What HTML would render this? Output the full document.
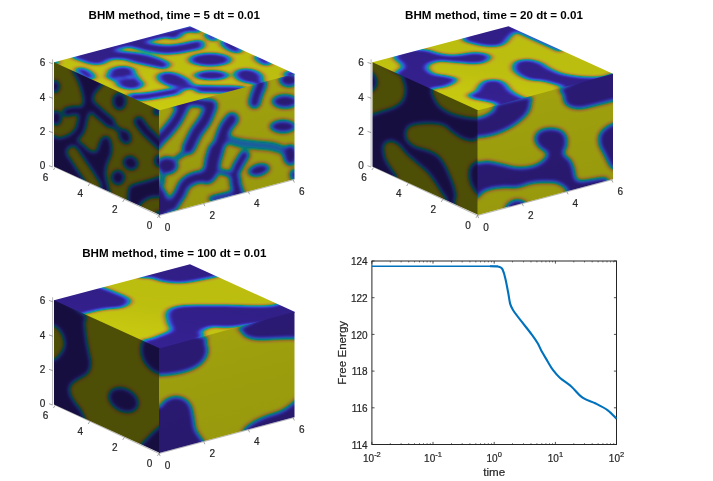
<!DOCTYPE html>
<html><head><meta charset="utf-8"><title>BHM method</title>
<style>
html,body{margin:0;padding:0;background:#fff;}
body{width:713px;height:481px;overflow:hidden;font-family:"Liberation Sans",sans-serif;}
svg{display:block}
svg text{font-family:"Liberation Sans",sans-serif;}
.tt{font-size:11.6px;font-weight:bold;fill:#000;}
.tk{font-size:10px;fill:#262626;stroke:#262626;stroke-width:0.2px;}
.lb{font-size:11.6px;fill:#262626;stroke:#262626;stroke-width:0.2px;}
</style></head><body>
<svg width="713" height="481" viewBox="0 0 713 481">
<defs>
<filter id="pftop" x="-5%" y="-5%" width="110%" height="110%" color-interpolation-filters="sRGB"><feGaussianBlur stdDeviation="3.2 1.5"/><feComponentTransfer><feFuncR type="table" tableValues="0.211 0.218 0.224 0.230 0.234 0.238 0.241 0.242 0.243 0.242 0.241 0.237 0.232 0.223 0.209 0.189 0.168 0.157 0.153 0.151 0.144 0.131 0.124 0.117 0.106 0.094 0.081 0.058 0.025 0.003 0.006 0.036 0.081 0.118 0.144 0.163 0.181 0.207 0.243 0.285 0.326 0.372 0.420 0.468 0.513 0.558 0.601 0.641 0.679 0.714 0.747 0.775 0.802 0.820 0.820 0.818 0.812 0.803 0.793 0.787 0.785 0.786 0.791 0.796"/><feFuncG type="table" tableValues="0.131 0.143 0.158 0.172 0.186 0.203 0.221 0.240 0.259 0.278 0.297 0.316 0.335 0.354 0.374 0.394 0.415 0.434 0.452 0.469 0.486 0.503 0.518 0.533 0.548 0.563 0.576 0.588 0.599 0.608 0.617 0.625 0.632 0.638 0.645 0.651 0.658 0.663 0.667 0.669 0.670 0.669 0.666 0.661 0.655 0.647 0.639 0.630 0.621 0.613 0.606 0.602 0.602 0.612 0.630 0.649 0.668 0.688 0.708 0.728 0.747 0.766 0.784 0.802"/><feFuncB type="table" tableValues="0.574 0.615 0.652 0.690 0.725 0.754 0.778 0.797 0.812 0.826 0.837 0.846 0.851 0.855 0.857 0.855 0.847 0.838 0.827 0.812 0.798 0.785 0.772 0.763 0.754 0.743 0.729 0.710 0.690 0.669 0.646 0.623 0.600 0.576 0.551 0.525 0.497 0.466 0.434 0.400 0.364 0.326 0.290 0.253 0.217 0.185 0.158 0.136 0.127 0.132 0.147 0.173 0.197 0.195 0.181 0.167 0.155 0.145 0.135 0.126 0.116 0.103 0.087 0.066"/></feComponentTransfer></filter>
<filter id="pfright" x="-5%" y="-5%" width="110%" height="110%" color-interpolation-filters="sRGB"><feGaussianBlur stdDeviation="2.6 2.1"/><feComponentTransfer><feFuncR type="table" tableValues="0.166 0.171 0.176 0.181 0.185 0.188 0.190 0.191 0.191 0.191 0.190 0.187 0.183 0.176 0.165 0.149 0.132 0.124 0.120 0.119 0.113 0.103 0.098 0.093 0.084 0.074 0.064 0.046 0.020 0.002 0.004 0.029 0.064 0.093 0.114 0.128 0.143 0.163 0.192 0.225 0.258 0.294 0.332 0.369 0.406 0.441 0.475 0.507 0.537 0.565 0.590 0.613 0.634 0.648 0.649 0.647 0.642 0.635 0.627 0.622 0.621 0.622 0.626 0.630"/><feFuncG type="table" tableValues="0.103 0.113 0.124 0.135 0.147 0.160 0.174 0.189 0.204 0.219 0.234 0.249 0.264 0.279 0.295 0.311 0.327 0.342 0.356 0.370 0.383 0.396 0.409 0.421 0.433 0.444 0.454 0.464 0.473 0.480 0.487 0.493 0.499 0.504 0.509 0.514 0.519 0.524 0.527 0.529 0.530 0.529 0.526 0.522 0.518 0.512 0.505 0.498 0.491 0.484 0.479 0.476 0.476 0.484 0.498 0.513 0.528 0.544 0.560 0.576 0.591 0.606 0.620 0.635"/><feFuncB type="table" tableValues="0.452 0.484 0.514 0.543 0.571 0.594 0.612 0.628 0.640 0.651 0.659 0.666 0.671 0.673 0.675 0.674 0.668 0.661 0.652 0.641 0.629 0.619 0.609 0.602 0.595 0.586 0.575 0.561 0.545 0.528 0.510 0.492 0.473 0.454 0.435 0.414 0.392 0.368 0.343 0.316 0.287 0.258 0.229 0.200 0.172 0.146 0.125 0.108 0.100 0.104 0.116 0.137 0.156 0.154 0.143 0.132 0.122 0.115 0.106 0.100 0.092 0.082 0.069 0.052"/></feComponentTransfer></filter>
<filter id="pfleft" x="-5%" y="-5%" width="110%" height="110%" color-interpolation-filters="sRGB"><feGaussianBlur stdDeviation="2.1 2.3"/><feComponentTransfer><feFuncR type="table" tableValues="0.092 0.095 0.097 0.100 0.102 0.103 0.104 0.104 0.105 0.104 0.103 0.102 0.099 0.095 0.089 0.080 0.071 0.066 0.065 0.064 0.061 0.055 0.052 0.049 0.044 0.039 0.034 0.024 0.010 0.001 0.002 0.015 0.033 0.049 0.059 0.067 0.074 0.084 0.099 0.116 0.132 0.150 0.170 0.188 0.207 0.224 0.241 0.257 0.271 0.284 0.297 0.308 0.317 0.324 0.323 0.322 0.319 0.314 0.310 0.307 0.305 0.305 0.306 0.308"/><feFuncG type="table" tableValues="0.057 0.063 0.069 0.075 0.081 0.088 0.096 0.104 0.112 0.120 0.127 0.135 0.143 0.151 0.159 0.168 0.176 0.184 0.191 0.198 0.205 0.211 0.218 0.224 0.229 0.235 0.240 0.245 0.249 0.252 0.255 0.258 0.260 0.262 0.265 0.267 0.269 0.271 0.272 0.272 0.272 0.271 0.269 0.267 0.264 0.260 0.256 0.252 0.248 0.244 0.241 0.239 0.238 0.242 0.248 0.255 0.262 0.269 0.277 0.284 0.291 0.297 0.304 0.310"/><feFuncB type="table" tableValues="0.251 0.268 0.284 0.300 0.314 0.326 0.336 0.344 0.350 0.355 0.359 0.362 0.364 0.365 0.365 0.364 0.360 0.355 0.350 0.343 0.336 0.330 0.324 0.320 0.316 0.310 0.304 0.296 0.287 0.277 0.267 0.257 0.247 0.237 0.226 0.215 0.203 0.190 0.177 0.163 0.147 0.132 0.117 0.102 0.087 0.074 0.064 0.055 0.051 0.053 0.058 0.069 0.078 0.077 0.071 0.066 0.061 0.057 0.053 0.049 0.045 0.040 0.034 0.025"/></feComponentTransfer></filter>
<linearGradient id="lsh" gradientUnits="objectBoundingBox" x1="0" y1="0" x2="1" y2="0"><stop offset="0" stop-color="#000" stop-opacity="0"/><stop offset="1" stop-color="#000" stop-opacity="0"/></linearGradient>
</defs>
<rect width="713" height="481" fill="#fff"/>
<g stroke="#262626" stroke-width="0.6" fill="none" opacity="0.55"><line x1="52.6" y1="59.3" x2="52.6" y2="166.6"/><line x1="54" y1="166.6" x2="159" y2="215.5"/><line x1="159" y1="215.5" x2="294.5" y2="179.5"/></g>
<linearGradient id="tsh1" gradientUnits="userSpaceOnUse" x1="159" y1="110.5" x2="171" y2="30"><stop offset="0" stop-color="#000" stop-opacity="0"/><stop offset="0.5" stop-color="#000" stop-opacity="0.065"/><stop offset="1" stop-color="#000" stop-opacity="0.075"/></linearGradient><clipPath id="c1top"><polygon points="54,62.3 190,26.3 294.5,73.7 294.5,74.7 159,111.5 54,63.3"/></clipPath>
<g clip-path="url(#c1top)"><g filter="url(#pftop)"><rect x="30" y="10" width="290" height="225" fill="#fff"/><ellipse cx="55" cy="62.5" rx="3.5" ry="2.5" transform="rotate(0 55 62.5)" fill="#000"/><path d="M73,54.5C75.7,52.9 84.2,50.6 90,49C95.8,47.4 103.3,44.7 107.8,45C112.2,45.3 113,49.5 116.5,50.6C120,51.7 124.6,51.3 129,51.8C133.4,52.3 138.7,52.8 143,53.6C147.3,54.4 151.3,55.3 155,56.4C158.7,57.5 162.5,59 165,60.4C167.5,61.8 170,63.1 170,64.5C170,65.9 167.3,68.3 165,68.8C162.7,69.3 158.9,68 156,67.5C153.1,67 151.2,66.5 147.5,65.7C143.8,64.9 137.9,63.7 134,62.7C130.1,61.7 127.3,60.3 124,59.7C120.7,59.1 116.7,59 114,59.3C111.3,59.5 109.8,60.4 107.8,61.2C105.7,62 104.2,63.8 101.5,64.3C98.8,64.8 95.2,65 91.5,64.3C87.8,63.6 81.9,61.2 79,60.2C76.1,59.2 75,59.5 74,58.5C73,57.5 70.3,56.1 73,54.5Z" fill="#000"/><path d="M106,49.5C109.2,48.7 119,46.1 125,44.5C131,42.9 137.5,41.2 142,40C146.5,38.8 148.2,38.4 152,37.5C155.8,36.6 160.7,35.5 165,34.5C169.3,33.5 173.8,32.5 178,31.5C182.2,30.5 186.8,28.8 190,28.5C193.2,28.2 195.8,29.8 197,30" fill="none" stroke="#000" stroke-width="6.5" stroke-linecap="round" stroke-linejoin="round"/><ellipse cx="175" cy="34.8" rx="8" ry="4.2" transform="rotate(-15 175 34.8)" fill="#000"/><ellipse cx="85.5" cy="73.5" rx="10.5" ry="4.3" transform="rotate(25 85.5 73.5)" fill="#000"/><path d="M133,43.5C134,43.7 135.7,44.1 138.8,44.8C141.8,45.5 146.7,47.1 151.2,47.9C155.8,48.7 161.5,49.6 166.2,49.7C171,49.8 175.6,49.1 180,48.5C184.4,47.9 189.2,46.6 192.5,46C195.8,45.4 198.3,45 199.5,44.8" fill="none" stroke="#000" stroke-width="9.5" stroke-linecap="round" stroke-linejoin="round"/><ellipse cx="121.5" cy="72.2" rx="13.5" ry="6" transform="rotate(-3 121.5 72.2)" fill="#000"/><ellipse cx="130" cy="83.6" rx="13.5" ry="5.8" transform="rotate(3 130 83.6)" fill="#000"/><path d="M134,75.5C134.6,76.2 136.9,79.2 137.5,80" fill="none" stroke="#000" stroke-width="4.5" stroke-linecap="round" stroke-linejoin="round"/><path d="M108,76C108.8,76.4 111.3,77.7 113,78.5C114.7,79.3 117.2,80.6 118,81" fill="none" stroke="#000" stroke-width="3.5" stroke-linecap="round" stroke-linejoin="round"/><ellipse cx="172.5" cy="79.6" rx="15.5" ry="7" transform="rotate(12 172.5 79.6)" fill="#000"/><path d="M131.2,97.3C134,97.1 142.3,96.8 147.5,96.2C152.7,95.7 157.6,94.6 162.5,93.8C167.4,92.9 174.6,91.5 177,91" fill="none" stroke="#000" stroke-width="7.5" stroke-linecap="round" stroke-linejoin="round"/><path d="M178,90.5C179.8,89.8 185.5,86.8 189,86.5C192.5,86.2 197.3,88.2 199,88.5" fill="none" stroke="#000" stroke-width="4.5" stroke-linecap="round" stroke-linejoin="round"/><path d="M186,80C186.8,80.8 190.2,84.2 191,85" fill="none" stroke="#000" stroke-width="4" stroke-linecap="round" stroke-linejoin="round"/><ellipse cx="210" cy="59.7" rx="21" ry="6.6" transform="rotate(0 210 59.7)" fill="#000"/><ellipse cx="211.5" cy="75.3" rx="17" ry="4.8" transform="rotate(0 211.5 75.3)" fill="#000"/><path d="M199,89C201.2,89 207.2,89.2 212,89.3C216.8,89.4 222.8,89.4 228,89.6C233.2,89.8 240.5,90.3 243,90.5" fill="none" stroke="#000" stroke-width="7.5" stroke-linecap="round" stroke-linejoin="round"/><ellipse cx="248.5" cy="76" rx="14.5" ry="7" transform="rotate(8 248.5 76)" fill="#000"/><path d="M254,79C255,79.8 258.7,82.2 260,84C261.3,85.8 261.7,89 262,90" fill="none" stroke="#000" stroke-width="9" stroke-linecap="round" stroke-linejoin="round"/><ellipse cx="211" cy="37" rx="7" ry="3.2" transform="rotate(25 211 37)" fill="#000"/><ellipse cx="231.5" cy="46.5" rx="11.5" ry="5" transform="rotate(25 231.5 46.5)" fill="#000"/><ellipse cx="263" cy="60.3" rx="9" ry="4" transform="rotate(25 263 60.3)" fill="#000"/><ellipse cx="291" cy="74.5" rx="7" ry="4" transform="rotate(0 291 74.5)" fill="#000"/></g><polygon points="54,62.3 190,26.3 294.5,73.7 294.5,74.7 159,111.5 54,63.3" fill="url(#tsh1)"/></g>
<clipPath id="c1left"><polygon points="54,62.3 160,110.5 160,215 54,166.6"/></clipPath>
<g clip-path="url(#c1left)"><g filter="url(#pfleft)"><rect x="30" y="10" width="290" height="225" fill="#fff"/><path d="M104,83.5C103,85 101.4,86.4 100,88C98.6,89.6 96.6,91.2 95.5,93C94.4,94.8 93.8,96.8 93.5,99C93.2,101.2 94.4,104.3 93.5,106C92.6,107.7 89.8,109 88,109C86.2,109 83.8,107.5 83,106C82.2,104.5 83.2,101.8 83,100C82.8,98.2 82.5,97.1 82,95C81.5,92.9 80.8,90 80,87.5C79.2,85 78.1,82.3 77,80C75.9,77.7 74.3,75.8 73.5,73.5C72.7,71.2 69.2,66.2 72,66C74.8,65.8 84.3,69.8 90,72C95.7,74.2 103.7,77.1 106,79C108.3,80.9 105,82 104,83.5Z" fill="#000"/><path d="M67,112C68.3,111.8 71.8,110.6 75,110.5C78.2,110.4 84.2,111.3 86,111.5" fill="none" stroke="#000" stroke-width="9" stroke-linecap="round" stroke-linejoin="round"/><path d="M86,108C85.5,109.7 84,114.3 83,118C82,121.7 81.8,126.6 80,130C78.2,133.4 75.3,136.3 72,138.5C68.7,140.7 62,142.2 60,143" fill="none" stroke="#000" stroke-width="10" stroke-linecap="round" stroke-linejoin="round"/><path d="M88,103C90,104.8 96.3,110.5 100,113.8C103.7,117 108.3,121 110,122.5" fill="none" stroke="#000" stroke-width="10.5" stroke-linecap="round" stroke-linejoin="round"/><path d="M110,122.5C111.5,123.8 117.5,128.8 119,130" fill="none" stroke="#000" stroke-width="4.5" stroke-linecap="round" stroke-linejoin="round"/><ellipse cx="125" cy="136.5" rx="6" ry="8" transform="rotate(-30 125 136.5)" fill="#000"/><ellipse cx="55" cy="86.5" rx="5" ry="6.5" transform="rotate(0 55 86.5)" fill="#000"/><ellipse cx="56" cy="118" rx="6" ry="7.5" transform="rotate(0 56 118)" fill="#000"/><ellipse cx="119.4" cy="101.25" rx="7" ry="8.7" transform="rotate(0 119.4 101.25)" fill="#000"/><path d="M138.8,121.5C139.8,122.9 142.7,127.3 145,130C147.3,132.7 149.8,134.9 152.5,137.5C155.2,140.1 159.6,144.2 161,145.5" fill="none" stroke="#000" stroke-width="10" stroke-linecap="round" stroke-linejoin="round"/><ellipse cx="157" cy="111.5" rx="4" ry="4" transform="rotate(0 157 111.5)" fill="#000"/><path d="M48,137C50,131 56.3,137.6 60,138C63.7,138.4 67,139 70,139.5C73,140 75.7,140.1 78,141C80.3,141.9 82,143.4 84,145C86,146.6 88,149.5 90,150.5C92,151.5 94.5,152.2 96,151C97.5,149.8 98,145.2 99,143C100,140.8 100.8,138.7 102,137.5C103.2,136.3 104.7,135.8 106,136C107.3,136.2 109,136.8 110,138.5C111,140.2 111.8,143.2 112,146C112.2,148.8 112.2,152.2 111.5,155C110.8,157.8 108.9,160.2 108,163C107.1,165.8 106.2,169.2 106,172C105.8,174.8 106.5,177.3 107,180C107.5,182.7 109.2,185 109,188C108.8,191 116.2,200.3 106,198C95.8,195.7 57.7,184.2 48,174C38.3,163.8 46,143 48,137Z" fill="#000"/><path d="M72.5,152C72.7,152.3 72.3,151.6 73.8,153.8C75.2,155.9 78.8,161.2 81.2,165C83.8,168.8 86.5,172.8 88.8,176.2C91,179.8 94,184.4 95,186" fill="none" stroke="#fff" stroke-width="11" stroke-linecap="round" stroke-linejoin="round"/><ellipse cx="130.6" cy="163" rx="8" ry="7" transform="rotate(30 130.6 163)" fill="#000"/><ellipse cx="118" cy="177.5" rx="7" ry="7.5" transform="rotate(0 118 177.5)" fill="#000"/><path d="M127.5,200.6C127.3,197.5 127.5,190.3 128.8,187.5C130,184.7 132.5,184.8 135,183.8C137.5,182.7 140.8,182.1 143.8,181.2C146.7,180.4 149.5,179.5 152.5,178.8C155.5,178 160.4,174.1 162,177C163.6,179.9 163.6,192.6 162,196C160.4,199.4 155.1,196.8 152.5,197.5C149.9,198.2 148.1,199 146.2,200C144.4,201 142.6,202.4 141.2,203.8C139.9,205.1 139.9,207.6 138,208C136.1,208.4 131.8,207.2 130,206C128.2,204.8 127.7,203.7 127.5,200.6Z" fill="#000"/><ellipse cx="159.5" cy="161" rx="5.5" ry="6.5" transform="rotate(0 159.5 161)" fill="#000"/><ellipse cx="158.5" cy="213.5" rx="3" ry="3" transform="rotate(0 158.5 213.5)" fill="#000"/></g><polygon points="54,62.3 159,110.5 159,215 54,166.6" fill="url(#lsh)"/></g>
<linearGradient id="rsh1" gradientUnits="userSpaceOnUse" x1="159" y1="110.5" x2="185.6" y2="208.3"><stop offset="0" stop-color="#000" stop-opacity="0"/><stop offset="1" stop-color="#000" stop-opacity="0.05"/></linearGradient><clipPath id="c1right"><polygon points="159,110.5 294.5,73.7 294.5,179 159,215"/></clipPath>
<g clip-path="url(#c1right)"><g filter="url(#pfright)"><rect x="30" y="10" width="290" height="225" fill="#fff"/><path d="M226,139C228.3,139.7 235,142 240,143C245,144 250.7,144.4 256,145C261.3,145.6 267.5,145.7 272,146.5C276.5,147.3 281.2,149.4 283,150" fill="none" stroke="#4a4a4a" stroke-width="9" stroke-linecap="round" stroke-linejoin="round"/><path d="M187,151C185.3,152.2 178.7,156.8 177,158" fill="none" stroke="#000" stroke-width="4" stroke-linecap="round" stroke-linejoin="round"/><path d="M163,172C162.8,174 162.2,182 162,184" fill="none" stroke="#000" stroke-width="4" stroke-linecap="round" stroke-linejoin="round"/><path d="M222,172C224,172.5 232,174.5 234,175" fill="none" stroke="#000" stroke-width="5" stroke-linecap="round" stroke-linejoin="round"/><path d="M185,103C183.5,105.8 179.2,115.3 176.2,120C173.3,124.7 170.2,128.1 167.5,131.2C164.8,134.4 162.2,136.5 160,139C157.8,141.5 155,144.8 154,146" fill="none" stroke="#000" stroke-width="12" stroke-linecap="round" stroke-linejoin="round"/><path d="M176,103.5C177.7,103.2 182.3,102.2 186,102C189.7,101.8 193.8,102.2 198,102.5C202.2,102.8 208.8,103.8 211,104" fill="none" stroke="#000" stroke-width="9" stroke-linecap="round" stroke-linejoin="round"/><path d="M211,105.5C210,107.9 207.5,115.5 205,120C202.5,124.5 198.8,128.3 196.2,132.5C193.8,136.7 191.3,142.4 190,145C188.7,147.6 188.8,147.5 188.5,148" fill="none" stroke="#000" stroke-width="13" stroke-linecap="round" stroke-linejoin="round"/><path d="M232,119C230.8,120.6 227,124.8 225,128.8C223,132.7 221.5,138.6 220,142.5C218.5,146.4 216.7,150.4 216,152" fill="none" stroke="#000" stroke-width="13" stroke-linecap="round" stroke-linejoin="round"/><path d="M216,150C215.5,151.7 213.8,156.5 213,160C212.2,163.5 212,168.3 211,171C210,173.7 207.7,175.2 207,176" fill="none" stroke="#000" stroke-width="16" stroke-linecap="round" stroke-linejoin="round"/><path d="M208,177C206,177.1 200.1,176.4 196.2,177.5C192.4,178.6 187.7,181 185,183.8C182.3,186.5 182.2,190 180,193.8C177.8,197.5 173.3,204 172,206" fill="none" stroke="#000" stroke-width="12" stroke-linecap="round" stroke-linejoin="round"/><path d="M261,84C260.2,85.8 257.6,91.9 256.5,95C255.4,98.1 254.8,101.2 254.5,102.5" fill="none" stroke="#000" stroke-width="12" stroke-linecap="round" stroke-linejoin="round"/><ellipse cx="289" cy="80" rx="10" ry="7" transform="rotate(0 289 80)" fill="#000"/><ellipse cx="285" cy="101.5" rx="13" ry="7" transform="rotate(0 285 101.5)" fill="#000"/><ellipse cx="283" cy="126.5" rx="13" ry="6.5" transform="rotate(0 283 126.5)" fill="#000"/><ellipse cx="290.5" cy="155" rx="7.5" ry="10.5" transform="rotate(0 290.5 155)" fill="#000"/><ellipse cx="294" cy="175" rx="4" ry="6" transform="rotate(0 294 175)" fill="#000"/><path d="M244.5,155C243.6,156.5 240.4,161.5 239,164C237.6,166.5 236.5,169 236,170" fill="none" stroke="#000" stroke-width="10" stroke-linecap="round" stroke-linejoin="round"/><path d="M235,178C235.2,179.3 235.3,183.3 236,186C236.7,188.7 238.5,192.7 239,194" fill="none" stroke="#000" stroke-width="11" stroke-linecap="round" stroke-linejoin="round"/><ellipse cx="258.75" cy="170" rx="11" ry="6" transform="rotate(-15 258.75 170)" fill="#000"/><ellipse cx="167" cy="165.5" rx="11" ry="9" transform="rotate(0 167 165.5)" fill="#000"/><path d="M155,184C155.8,178.5 158.2,183.7 160,185C161.8,186.3 164.3,189 166,192C167.7,195 169.3,199.7 170,203C170.7,206.3 170.8,209.8 170,212C169.2,214.2 167.5,215 165,216C162.5,217 156.7,223.3 155,218C153.3,212.7 154.2,189.5 155,184Z" fill="#000"/><path d="M212,199C214,198.5 220.3,196.8 224,196C227.7,195.2 232.3,194.3 234,194" fill="none" stroke="#000" stroke-width="6" stroke-linecap="round" stroke-linejoin="round"/></g><polygon points="159,110.5 294.5,73.7 294.5,179 159,215" fill="url(#rsh1)"/></g>
<g stroke="#262626" stroke-width="0.6" opacity="0.7"><line x1="49" y1="165.7" x2="52.6" y2="167.0"/><line x1="49" y1="131.3" x2="52.6" y2="132.6"/><line x1="49" y1="96.9" x2="52.6" y2="98.2"/><line x1="49" y1="62.4" x2="52.6" y2="63.7"/><line x1="159.0" y1="215.5" x2="160.2" y2="218.1"/><line x1="203.7" y1="203.6" x2="204.9" y2="206.2"/><line x1="248.4" y1="191.7" x2="249.6" y2="194.3"/><line x1="293.2" y1="179.9" x2="294.4" y2="182.5"/><line x1="159.0" y1="215.5" x2="157.4" y2="217.9"/><line x1="124.3" y1="199.5" x2="122.7" y2="201.9"/><line x1="89.7" y1="183.6" x2="88.1" y2="186.0"/><line x1="55.0" y1="167.6" x2="53.4" y2="170.0"/></g>
<g class="tk"><text x="45.4" y="169.4" text-anchor="end">0</text><text x="45.4" y="135.0" text-anchor="end">2</text><text x="45.4" y="100.6" text-anchor="end">4</text><text x="45.4" y="66.1" text-anchor="end">6</text><text x="167.5" y="230.5" text-anchor="middle">0</text><text x="212.2" y="218.6" text-anchor="middle">2</text><text x="256.9" y="206.7" text-anchor="middle">4</text><text x="301.7" y="194.9" text-anchor="middle">6</text><text x="149.5" y="229.0" text-anchor="middle">0</text><text x="114.8" y="213.0" text-anchor="middle">2</text><text x="80.2" y="197.1" text-anchor="middle">4</text><text x="45.5" y="181.1" text-anchor="middle">6</text></g>
<text class="tt" x="174.3" y="18.9" text-anchor="middle">BHM method, time = 5 dt = 0.01</text>
<g stroke="#262626" stroke-width="0.6" fill="none" opacity="0.55"><line x1="371.1" y1="59.3" x2="371.1" y2="166.6"/><line x1="372.5" y1="166.6" x2="477.5" y2="215.5"/><line x1="477.5" y1="215.5" x2="613.0" y2="179.5"/></g>
<linearGradient id="tsh2" gradientUnits="userSpaceOnUse" x1="477.5" y1="110.5" x2="489.5" y2="30"><stop offset="0" stop-color="#000" stop-opacity="0"/><stop offset="0.5" stop-color="#000" stop-opacity="0.065"/><stop offset="1" stop-color="#000" stop-opacity="0.075"/></linearGradient><clipPath id="c2top"><polygon points="372.5,62.3 508.5,26.3 613,73.7 613,74.7 477.5,111.5 372.5,63.3"/></clipPath>
<g clip-path="url(#c2top)"><g filter="url(#pftop)"><rect x="348.5" y="10" width="290" height="225" fill="#fff"/><path d="M394.2,57.5C394.2,55.2 395,51.3 400,50C405,48.7 417.5,48.9 424.2,49.5C431,50.1 435.3,52.8 440.5,53.8C445.7,54.7 450.1,55.2 455.5,55C460.9,54.8 468,52.7 473,52.5C478,52.3 482.6,52.9 485.5,53.8C488.4,54.6 490.7,56 490.5,57.5C490.3,59 487.2,61.5 484.2,62.5C481.3,63.5 477.8,63.8 473,63.8C468.2,63.8 460.9,62.9 455.5,62.5C450.1,62.1 444.7,61 440.5,61.2C436.3,61.5 432.6,62.5 430.5,63.8C428.4,65 427.4,67.1 428,68.8C428.6,70.4 430.9,72.5 434.2,73.8C437.6,75 444.2,75.4 448,76.2C451.8,77.1 455.9,77.5 456.8,78.8C457.6,80 455.3,82.3 453,83.8C450.7,85.2 446.3,86.7 443,87.5C439.7,88.3 436,87.5 433,88.8C430,90 431.2,96.1 425,95C418.8,93.9 400.4,85.8 395.5,82C390.6,78.2 394.5,74.8 395.5,72.5C396.5,70.2 400.7,69.5 401.5,68C402.3,66.5 401.7,65.5 400.5,63.8C399.3,62 394.3,59.8 394.2,57.5Z" fill="#000"/><path d="M463,39.5C463.5,41.8 469.2,42.6 473,43.8C476.8,44.9 481.3,45.8 485.5,46.2C489.7,46.7 494.7,46.8 498,46.2C501.3,45.7 503.5,44.5 505.5,43C507.5,41.5 508.5,39.2 510,37.5C511.5,35.8 513.2,34.6 514.5,33C515.8,31.4 518.8,29.8 518,28C517.2,26.2 513,24.2 510,22C507,19.8 506.7,13.7 500,15C493.3,16.3 476.2,25.9 470,30C463.8,34.1 462.5,37.2 463,39.5Z" fill="#000"/><path d="M516,29.5C518.3,30.6 525.2,33.8 530,36C534.8,38.2 540,40.5 545,42.8C550,45.1 557.5,48.5 560,49.6" fill="none" stroke="#000" stroke-width="4.5" stroke-linecap="round" stroke-linejoin="round"/><path d="M513,66.2C513.4,64.6 514.2,62.4 516.8,61.2C519.2,60.1 524,59.3 528,59.5C532,59.7 536.8,61 540.5,62.5C544.2,64 546.8,66.9 550.5,68.8C554.2,70.6 558.4,72.5 563,73.8C567.6,75 573,75.7 578,76.2C583,76.8 588.6,77 593,77C597.4,77 601.1,76.8 604.2,76.2C607.4,75.7 608.3,74.5 611.8,73.8C615.2,73 623.6,70.1 625,72C626.4,73.9 630.5,81.8 620,85C609.5,88.2 571.5,90.7 561.8,91C552,91.3 563.2,88.2 561.8,87C560.3,85.8 556.1,84.7 553,83.8C549.9,82.8 546.8,81.9 543,81.2C539.2,80.6 534.2,80.8 530.5,80C526.8,79.2 523.2,77.7 520.5,76.2C517.8,74.8 515.5,72.9 514.2,71.2C513,69.6 512.6,67.9 513,66.2Z" fill="#000"/><path d="M468,95C468.4,93.8 473.6,92.8 475.5,91.2C477.4,89.7 477.6,87.3 479.2,85.5C480.9,83.7 482.4,81.4 485.5,80.5C488.6,79.6 494.7,79.5 498,80C501.3,80.5 503.4,82.1 505.5,83.8C507.6,85.4 508.4,88.1 510.5,90C512.6,91.9 515.3,93.5 518,95C520.7,96.5 524.6,97.4 526.8,98.8C528.9,100.1 532.1,100.8 531,103C529.9,105.2 525.5,110.8 520,112C514.5,113.2 502.1,111.4 498,110C493.9,108.6 497.6,105.2 495.5,103.8C493.4,102.3 489.2,102.1 485.5,101.2C481.8,100.4 475.9,99.8 473,98.8C470.1,97.7 467.6,96.2 468,95Z" fill="#000"/></g><polygon points="372.5,62.3 508.5,26.3 613,73.7 613,74.7 477.5,111.5 372.5,63.3" fill="url(#tsh2)"/></g>
<clipPath id="c2left"><polygon points="372.5,62.3 478.5,110.5 478.5,215 372.5,166.6"/></clipPath>
<g clip-path="url(#c2left)"><g filter="url(#pfleft)"><rect x="348.5" y="10" width="290" height="225" fill="#000"/><path d="M360,55C366.2,48.1 390.4,69.6 397.5,73.8C404.6,77.9 401.2,77.3 402.5,80C403.8,82.7 405,86.7 405,90C405,93.3 404.2,97.3 402.5,100C400.8,102.7 397.9,104.6 395,106.2C392.1,107.9 388.8,108.8 385,110C381.2,111.2 376.7,112.9 372.5,113.8C368.3,114.6 362.1,124.8 360,115C357.9,105.2 353.8,61.9 360,55Z" fill="#fff"/><path d="M432.5,90C431.7,93.1 433.8,96 435,98.8C436.2,101.5 437.5,104 440,106.2C442.5,108.5 446.2,110.8 450,112.5C453.8,114.2 457.9,115.3 462.5,116.2C467.1,117.2 472.9,117.7 477.5,118C482.1,118.3 487.9,121 490,118C492.1,115 498.3,106.3 490,100C481.7,93.7 449.6,81.7 440,80C430.4,78.3 433.3,86.9 432.5,90Z" fill="#fff"/><path d="M406.2,132.5C406.7,130.2 407.3,127.7 410,126.2C412.7,124.8 418.3,124.2 422.5,123.8C426.7,123.3 431.2,123.3 435,123.8C438.8,124.2 442.1,124.8 445,126.2C447.9,127.7 449.6,130.4 452.5,132.5C455.4,134.6 459.2,137.3 462.5,138.8C465.8,140.2 467.9,140.9 472.5,141.2C477.1,141.6 487.1,127 490,141C492.9,155 495.4,213.8 490,225C484.6,236.2 463.1,213 457.5,208C451.9,203 456.9,198.8 456.2,195C455.6,191.2 455,188.8 453.8,185C452.5,181.2 450.4,176.2 448.8,172.5C447.1,168.8 445.6,165.4 443.8,162.5C441.9,159.6 440.2,157.1 437.5,155C434.8,152.9 431.2,151.5 427.5,150C423.8,148.5 418.3,147.9 415,146.2C411.7,144.6 409,142.3 407.5,140C406,137.7 405.8,134.8 406.2,132.5Z" fill="#fff"/><path d="M383.8,150C383.5,147.3 383.8,145.2 385,143.8C386.2,142.3 389,141 391.2,141.2C393.5,141.5 396.2,142.9 398.8,145C401.2,147.1 403.1,150.6 406.2,153.8C409.4,156.9 414,160.6 417.5,163.8C421,166.9 424.6,169.4 427.5,172.5C430.4,175.6 432.7,179.2 435,182.5C437.3,185.8 439.4,189.4 441.2,192.5C443.1,195.6 446.2,197.2 446,201C445.8,204.8 448.5,217.7 440,215C431.5,212.3 402.1,191.2 395,185C387.9,178.8 397.9,180.5 397.5,178C397.1,175.5 394.4,173 392.5,170C390.6,167 387.7,163.3 386.2,160C384.8,156.7 384,152.7 383.8,150Z" fill="#fff"/><path d="M365,72C366.2,68.8 370.6,71.6 372.5,72.5C374.4,73.4 375.4,75.6 376.2,77.5C377.1,79.4 377.7,81.9 377.5,83.8C377.3,85.6 375.8,87.5 375,88.8C374.2,90 374.2,90.7 372.5,91.2C370.8,91.8 366.2,95.2 365,92C363.8,88.8 363.8,75.2 365,72Z" fill="#000"/><path d="M485,160C483.8,154.4 479.8,160.4 477.5,161.2C475.2,162.1 472.7,163.1 471.2,165C469.8,166.9 469,169.6 468.8,172.5C468.5,175.4 469.2,179.6 470,182.5C470.8,185.4 472.5,188.1 473.8,190C475,191.9 475.6,193.2 477.5,194C479.4,194.8 483.8,200.7 485,195C486.2,189.3 486.2,165.6 485,160Z" fill="#000"/></g><polygon points="372.5,62.3 477.5,110.5 477.5,215 372.5,166.6" fill="url(#lsh)"/></g>
<linearGradient id="rsh2" gradientUnits="userSpaceOnUse" x1="477.5" y1="110.5" x2="504.1" y2="208.3"><stop offset="0" stop-color="#000" stop-opacity="0"/><stop offset="1" stop-color="#000" stop-opacity="0.05"/></linearGradient><clipPath id="c2right"><polygon points="477.5,110.5 613,73.7 613,179 477.5,215"/></clipPath>
<g clip-path="url(#c2right)"><g filter="url(#pfright)"><rect x="348.5" y="10" width="290" height="225" fill="#fff"/><path d="M498,103C504,100.8 523.8,96.4 529.2,96.5C534.8,96.6 531,101.3 531,103.8C531,106.2 530.6,108.8 529.2,111.2C527.9,113.8 525.7,116.2 523,118.8C520.3,121.2 516.8,124 513,126.2C509.2,128.5 504.7,130.8 500.5,132.5C496.3,134.2 491.8,135.4 488,136.2C484.2,137.1 481.3,137.2 477.5,137.5C473.7,137.8 467.1,141.2 465,138C462.9,134.8 462.9,121.4 465,118C467.1,114.6 474.1,118 477.5,117.5C480.9,117 482.9,116.2 485.5,115C488.1,113.8 490.9,112 493,110C495.1,108 492,105.2 498,103Z" fill="#000"/><path d="M561.8,87.5C555.6,91.7 562.6,92.5 563,95C563.4,97.5 563,100.4 564.2,102.5C565.5,104.6 567.8,106.5 570.5,107.5C573.2,108.5 576.8,109 580.5,108.8C584.2,108.5 589.2,107.1 593,106.2C596.8,105.4 599.7,104.6 603,103.8C606.3,102.9 609.3,102 613,101.2C616.7,100.5 623,105 625,99C627,93 629.2,69.8 625,65C620.8,60.2 610.5,66.2 600,70C589.5,73.8 567.9,83.3 561.8,87.5Z" fill="#000"/><path d="M465,163C467.1,156.8 473.7,162.8 477.5,162.5C481.3,162.2 484.2,161 488,161.2C491.8,161.5 495.9,162.8 500.5,163.8C505.1,164.7 510.5,166.6 515.5,167C520.5,167.4 526.1,167.2 530.5,166.2C534.9,165.3 539,163.3 541.8,161.2C544.5,159.2 547,155.8 546.8,153.8C546.5,151.7 542.4,150.6 540.5,148.8C538.6,146.9 536.3,144.8 535.5,142.5C534.7,140.2 534.5,137.2 535.5,135C536.5,132.8 539,130.7 541.8,129.5C544.5,128.3 548.4,127.8 551.8,128C555.1,128.2 559.2,128.9 561.8,130.5C564.2,132.1 565.9,134.9 566.8,137.5C567.6,140.1 567.2,143.5 566.8,146.2C566.3,149 563.6,151.5 564.2,153.8C564.9,156 568.8,157.5 570.5,160C572.2,162.5 573.4,166.1 574.2,168.8C575.1,171.4 574.7,174 575.5,176C576.3,178 576.3,180 579.2,180.5C582.2,181 588.8,179.5 593,179C597.2,178.5 601.8,177.3 604.2,177.5C606.8,177.7 607,177.8 608,180.2C609,182.7 616.9,188.7 610,192C603.1,195.3 574,200.1 566.8,200C559.5,199.9 567.2,193.3 566.8,191.2C566.3,189.2 566.1,188.9 564.2,187.5C562.4,186.1 559,183.8 555.5,183C552,182.2 547.2,182.4 543,182.5C538.8,182.6 534.7,182.9 530.5,183.8C526.3,184.6 522.2,186.9 518,187.5C513.8,188.1 509.7,187.3 505.5,187.5C501.3,187.7 496.8,187.9 493,188.8C489.2,189.6 485.6,191 483,192.5C480.4,194 480.5,196.2 477.5,197.5C474.5,198.8 467.1,205.8 465,200C462.9,194.2 462.9,169.2 465,163Z" fill="#000"/><path d="M613,123.8C609.8,124.7 607.8,125.6 605.5,127.5C603.2,129.4 600.3,132.1 599.2,135C598.2,137.9 598.4,141.7 599.2,145C600.1,148.3 602.6,151.7 604.2,155C605.9,158.3 607.8,162.7 609.2,165C610.7,167.3 610.4,167.9 613,168.8C615.6,169.6 623,177.8 625,170C627,162.2 627,129.7 625,122C623,114.3 616.2,122.8 613,123.8Z" fill="#000"/><path d="M505.5,207.5C506.3,204.8 508.1,203.3 510,202C511.9,200.7 514.8,199.8 516.8,199.5C518.8,199.2 520.5,200 522,200.5C523.5,201 524.5,200.6 525.5,202.5C526.5,204.4 531.4,209.4 528,212C524.6,214.6 508.8,218.8 505,218C501.2,217.2 504.7,210.2 505.5,207.5Z" fill="#000"/></g><polygon points="477.5,110.5 613,73.7 613,179 477.5,215" fill="url(#rsh2)"/></g>
<g stroke="#262626" stroke-width="0.6" opacity="0.7"><line x1="367.5" y1="165.7" x2="371.1" y2="167.0"/><line x1="367.5" y1="131.3" x2="371.1" y2="132.6"/><line x1="367.5" y1="96.9" x2="371.1" y2="98.2"/><line x1="367.5" y1="62.4" x2="371.1" y2="63.7"/><line x1="477.5" y1="215.5" x2="478.7" y2="218.1"/><line x1="522.2" y1="203.6" x2="523.4" y2="206.2"/><line x1="566.9" y1="191.7" x2="568.1" y2="194.3"/><line x1="611.7" y1="179.9" x2="612.9" y2="182.5"/><line x1="477.5" y1="215.5" x2="475.9" y2="217.9"/><line x1="442.8" y1="199.5" x2="441.2" y2="201.9"/><line x1="408.2" y1="183.6" x2="406.6" y2="186.0"/><line x1="373.5" y1="167.6" x2="371.9" y2="170.0"/></g>
<g class="tk"><text x="363.9" y="169.4" text-anchor="end">0</text><text x="363.9" y="135.0" text-anchor="end">2</text><text x="363.9" y="100.6" text-anchor="end">4</text><text x="363.9" y="66.1" text-anchor="end">6</text><text x="486.0" y="230.5" text-anchor="middle">0</text><text x="530.7" y="218.6" text-anchor="middle">2</text><text x="575.4" y="206.7" text-anchor="middle">4</text><text x="620.2" y="194.9" text-anchor="middle">6</text><text x="468.0" y="229.0" text-anchor="middle">0</text><text x="433.3" y="213.0" text-anchor="middle">2</text><text x="398.7" y="197.1" text-anchor="middle">4</text><text x="364.0" y="181.1" text-anchor="middle">6</text></g>
<text class="tt" x="494.0" y="18.9" text-anchor="middle">BHM method, time = 20 dt = 0.01</text>
<g stroke="#262626" stroke-width="0.6" fill="none" opacity="0.55"><line x1="52.6" y1="297.3" x2="52.6" y2="404.6"/><line x1="54" y1="404.6" x2="159" y2="453.5"/><line x1="159" y1="453.5" x2="294.5" y2="417.5"/></g>
<linearGradient id="tsh3" gradientUnits="userSpaceOnUse" x1="159" y1="348.5" x2="171" y2="268"><stop offset="0" stop-color="#000" stop-opacity="0"/><stop offset="0.5" stop-color="#000" stop-opacity="0.065"/><stop offset="1" stop-color="#000" stop-opacity="0.075"/></linearGradient><clipPath id="c3top"><polygon points="54,300.3 190,264.3 294.5,311.7 294.5,312.7 159,349.5 54,301.3"/></clipPath>
<g clip-path="url(#c3top)"><g filter="url(#pftop)"><rect x="30" y="248" width="290" height="225" fill="#fff"/><path d="M40,296C37.3,291.3 47.3,292.3 54,290C60.7,287.7 72.3,282.6 80,282C87.7,281.4 94.2,284.8 100,286.5C105.8,288.2 110.4,290.2 115,292C119.6,293.8 125,295.8 127.5,297.5C130,299.2 130.8,300.8 130,302.5C129.2,304.2 126.2,306.4 122.5,307.5C118.8,308.6 112.1,308.4 107.5,309C102.9,309.6 99,310.4 95,311.2C91,312.1 87.9,312.9 83.8,314C79.6,315.1 77.3,321 70,318C62.7,315 42.7,300.7 40,296Z" fill="#000"/><path d="M130,270C120,274.6 136.7,276.2 140,277.5C143.3,278.8 145.8,277.2 150,278C154.2,278.8 160,281.2 165,282C170,282.8 175,283.1 180,283C185,282.9 190.4,282 195,281.2C199.6,280.5 203.8,279.5 207.5,278.8C211.2,278 213.8,277.6 217.5,276.5C221.2,275.4 232.9,276.4 230,272C227.1,267.6 216.7,250.3 200,250C183.3,249.7 140,265.4 130,270Z" fill="#000"/><path d="M142.5,341C142.5,338.8 147.1,339.8 150,338.8C152.9,337.8 156.7,336.5 160,335C163.3,333.5 168.8,332.1 170,330C171.2,327.9 168.1,325.2 167.5,322.5C166.9,319.8 165.8,316 166.2,313.8C166.7,311.5 168.5,309.9 170,308.8C171.5,307.6 172.9,307.5 175,307C177.1,306.5 178.3,305.8 182.5,305.5C186.7,305.2 192.9,305.1 200,305C207.1,304.9 216.7,304.9 225,305C233.3,305.1 243.3,305.6 250,305.8C256.7,305.9 260.4,306 265,305.8C269.6,305.5 271.7,305.6 277.5,304C283.3,302.4 294.6,294.2 300,296C305.4,297.8 319.6,310 310,315C300.4,320 255,324 242.5,326C230,328 237.9,326.8 235,327C232.1,327.2 228.8,327.5 225,327.5C221.2,327.5 215.8,326.7 212.5,327C209.2,327.3 206.8,328.5 205,329.5C203.2,330.5 201.9,331.8 201.5,333C201.1,334.2 206.1,332.5 202.5,337C198.9,341.5 188.8,357.5 180,360C171.2,362.5 156.2,355.2 150,352C143.8,348.8 142.5,343.2 142.5,341Z" fill="#000"/></g><polygon points="54,300.3 190,264.3 294.5,311.7 294.5,312.7 159,349.5 54,301.3" fill="url(#tsh3)"/></g>
<clipPath id="c3left"><polygon points="54,300.3 160,348.5 160,453 54,404.6"/></clipPath>
<g clip-path="url(#c3left)"><g filter="url(#pfleft)"><rect x="30" y="248" width="290" height="225" fill="#fff"/><path d="M45,290C52.3,289 77.1,308.3 83.8,313.8C90.4,319.2 84.6,319 85,322.5C85.4,326 85.6,330.4 86.2,335C86.9,339.6 87.9,345.5 88.8,350C89.6,354.5 91,358.7 91.2,362C91.5,365.3 90.8,367.8 90,370C89.2,372.2 88.3,373.3 86.2,375C84.2,376.7 80,378.3 77.5,380C75,381.7 72.5,383.1 71.2,385C70,386.9 69.6,388.8 70,391.2C70.4,393.8 71.9,396.9 73.8,400C75.6,403.1 79.4,406.9 81.2,410C83.1,413.1 83.9,415.2 85,418.5C86.1,421.8 95.5,429.8 88,430C80.5,430.2 48,430.8 40,420C32,409.2 37.7,375.1 40,365C42.3,354.9 50.4,361.4 53.8,359.5C57.1,357.6 58.3,356 60,353.8C61.7,351.5 63.2,349 63.8,346.2C64.2,343.5 63.8,340.2 63,337.5C62.2,334.8 60.3,331.9 58.8,330C57.2,328.1 56.9,327.9 53.8,326.2C50.6,324.6 41.5,326 40,320C38.5,314 37.7,291 45,290Z" fill="#000"/><path d="M142.5,341.2C144,339.9 145.4,337.4 150,338C154.6,338.6 167.5,339.2 170,345C172.5,350.8 166.9,368.2 165,373C163.1,377.8 160.8,374 158.8,373.8C156.7,373.5 154.8,372.9 152.5,371.2C150.2,369.6 146.9,366.5 145,363.8C143.1,361 142,357.9 141.2,355C140.5,352.1 140.5,348.5 140.8,346.2C141,344 141,342.6 142.5,341.2Z" fill="#000"/><ellipse cx="123.5" cy="400" rx="16" ry="11.5" transform="rotate(28 123.5 400)" fill="#000"/><path d="M140,446.5C140.5,443.7 143.8,441.4 146,439C148.2,436.6 150.9,434 153,432C155.1,430 156.2,428.5 158.8,427C161.2,425.5 166.1,417.5 168,423C169.9,428.5 174.2,454.5 170,460C165.8,465.5 148,458.2 143,456C138,453.8 139.5,449.3 140,446.5Z" fill="#000"/></g><polygon points="54,300.3 159,348.5 159,453 54,404.6" fill="url(#lsh)"/></g>
<linearGradient id="rsh3" gradientUnits="userSpaceOnUse" x1="159" y1="348.5" x2="185.6" y2="446.3"><stop offset="0" stop-color="#000" stop-opacity="0"/><stop offset="1" stop-color="#000" stop-opacity="0.05"/></linearGradient><clipPath id="c3right"><polygon points="159,348.5 294.5,311.7 294.5,417 159,453"/></clipPath>
<g clip-path="url(#c3right)"><g filter="url(#pfright)"><rect x="30" y="248" width="290" height="225" fill="#fff"/><path d="M150,330C159.6,323.6 193.1,334.2 202.5,336.3C211.9,338.4 205.3,340.2 206.2,342.5C207.2,344.8 208,347.5 208,350C208,352.5 207.6,355 206.2,357.5C204.9,360 203.1,362.7 200,365C196.9,367.3 192.1,369.7 187.5,371.2C182.9,372.8 177.1,373.8 172.5,374.5C167.9,375.2 164.6,375.4 160,375.5C155.4,375.6 146.7,382.6 145,375C143.3,367.4 140.4,336.4 150,330Z" fill="#000"/><path d="M242.5,326C231.9,331.2 240.8,329.5 241.2,331.2C241.7,333 242.7,334.9 245,336.2C247.3,337.6 250.8,339 255,339.5C259.2,340 265,339.6 270,339.5C275,339.4 280.9,338.9 285,338.8C289.1,338.6 291.2,338.9 294.5,338.8C297.8,338.6 303.2,344.5 305,338C306.8,331.5 315.4,302 305,300C294.6,298 253.1,320.8 242.5,326Z" fill="#000"/><path d="M150,412C151.6,402.2 157,408.2 159.5,406.2C162,404.2 162.4,401.7 165,400C167.6,398.3 171.7,396.5 175,396.2C178.3,396 182.3,397.1 185,398.8C187.7,400.4 189.8,403.1 191.2,406.2C192.7,409.4 192.9,413.5 193.8,417.5C194.6,421.5 194.6,426 196.2,430C197.9,434 201.8,437.8 203.8,441.5C205.7,445.2 217,448.1 208,452C199,455.9 159.7,471.7 150,465C140.3,458.3 148.4,421.8 150,412Z" fill="#000"/><path d="M243.8,430C245,427.1 249,424.8 252.5,422.5C256,420.2 260.4,418.1 265,416.2C269.6,414.4 275.8,413.1 280,411.2C284.2,409.4 287.6,406.7 290,405C292.4,403.3 292,402.9 294.5,401.2C297,399.6 302.4,391 305,395C307.6,399 320,417.5 310,425C300,432.5 256,439.2 245,440C234,440.8 242.5,432.9 243.8,430Z" fill="#000"/></g><polygon points="159,348.5 294.5,311.7 294.5,417 159,453" fill="url(#rsh3)"/></g>
<g stroke="#262626" stroke-width="0.6" opacity="0.7"><line x1="49" y1="403.7" x2="52.6" y2="405.0"/><line x1="49" y1="369.3" x2="52.6" y2="370.6"/><line x1="49" y1="334.9" x2="52.6" y2="336.2"/><line x1="49" y1="300.4" x2="52.6" y2="301.7"/><line x1="159.0" y1="453.5" x2="160.2" y2="456.1"/><line x1="203.7" y1="441.6" x2="204.9" y2="444.2"/><line x1="248.4" y1="429.7" x2="249.6" y2="432.3"/><line x1="293.2" y1="417.9" x2="294.4" y2="420.5"/><line x1="159.0" y1="453.5" x2="157.4" y2="455.9"/><line x1="124.3" y1="437.5" x2="122.7" y2="439.9"/><line x1="89.7" y1="421.6" x2="88.1" y2="424.0"/><line x1="55.0" y1="405.6" x2="53.4" y2="408.0"/></g>
<g class="tk"><text x="45.4" y="407.4" text-anchor="end">0</text><text x="45.4" y="373.0" text-anchor="end">2</text><text x="45.4" y="338.6" text-anchor="end">4</text><text x="45.4" y="304.1" text-anchor="end">6</text><text x="167.5" y="468.5" text-anchor="middle">0</text><text x="212.2" y="456.6" text-anchor="middle">2</text><text x="256.9" y="444.7" text-anchor="middle">4</text><text x="301.7" y="432.9" text-anchor="middle">6</text><text x="149.5" y="467.0" text-anchor="middle">0</text><text x="114.8" y="451.0" text-anchor="middle">2</text><text x="80.2" y="435.1" text-anchor="middle">4</text><text x="45.5" y="419.1" text-anchor="middle">6</text></g>
<text class="tt" x="174.3" y="256.9" text-anchor="middle">BHM method, time = 100 dt = 0.01</text>
<rect x="371.9" y="261" width="244.60000000000002" height="183.5" fill="#fff" stroke="#262626" stroke-width="1"/>
<g stroke="#262626" stroke-width="0.8"><line x1="371.9" y1="444.5" x2="371.9" y2="441.9"/><line x1="371.9" y1="261" x2="371.9" y2="263.6"/><line x1="390.3" y1="444.5" x2="390.3" y2="443.1" opacity="0.8"/><line x1="390.3" y1="261" x2="390.3" y2="262.4" opacity="0.8"/><line x1="401.1" y1="444.5" x2="401.1" y2="443.1" opacity="0.8"/><line x1="401.1" y1="261" x2="401.1" y2="262.4" opacity="0.8"/><line x1="408.7" y1="444.5" x2="408.7" y2="443.1" opacity="0.8"/><line x1="408.7" y1="261" x2="408.7" y2="262.4" opacity="0.8"/><line x1="414.6" y1="444.5" x2="414.6" y2="443.1" opacity="0.8"/><line x1="414.6" y1="261" x2="414.6" y2="262.4" opacity="0.8"/><line x1="419.5" y1="444.5" x2="419.5" y2="443.1" opacity="0.8"/><line x1="419.5" y1="261" x2="419.5" y2="262.4" opacity="0.8"/><line x1="423.6" y1="444.5" x2="423.6" y2="443.1" opacity="0.8"/><line x1="423.6" y1="261" x2="423.6" y2="262.4" opacity="0.8"/><line x1="427.1" y1="444.5" x2="427.1" y2="443.1" opacity="0.8"/><line x1="427.1" y1="261" x2="427.1" y2="262.4" opacity="0.8"/><line x1="430.3" y1="444.5" x2="430.3" y2="443.1" opacity="0.8"/><line x1="430.3" y1="261" x2="430.3" y2="262.4" opacity="0.8"/><line x1="433.0" y1="444.5" x2="433.0" y2="441.9"/><line x1="433.0" y1="261" x2="433.0" y2="263.6"/><line x1="451.5" y1="444.5" x2="451.5" y2="443.1" opacity="0.8"/><line x1="451.5" y1="261" x2="451.5" y2="262.4" opacity="0.8"/><line x1="462.2" y1="444.5" x2="462.2" y2="443.1" opacity="0.8"/><line x1="462.2" y1="261" x2="462.2" y2="262.4" opacity="0.8"/><line x1="469.9" y1="444.5" x2="469.9" y2="443.1" opacity="0.8"/><line x1="469.9" y1="261" x2="469.9" y2="262.4" opacity="0.8"/><line x1="475.8" y1="444.5" x2="475.8" y2="443.1" opacity="0.8"/><line x1="475.8" y1="261" x2="475.8" y2="262.4" opacity="0.8"/><line x1="480.6" y1="444.5" x2="480.6" y2="443.1" opacity="0.8"/><line x1="480.6" y1="261" x2="480.6" y2="262.4" opacity="0.8"/><line x1="484.7" y1="444.5" x2="484.7" y2="443.1" opacity="0.8"/><line x1="484.7" y1="261" x2="484.7" y2="262.4" opacity="0.8"/><line x1="488.3" y1="444.5" x2="488.3" y2="443.1" opacity="0.8"/><line x1="488.3" y1="261" x2="488.3" y2="262.4" opacity="0.8"/><line x1="491.4" y1="444.5" x2="491.4" y2="443.1" opacity="0.8"/><line x1="491.4" y1="261" x2="491.4" y2="262.4" opacity="0.8"/><line x1="494.2" y1="444.5" x2="494.2" y2="441.9"/><line x1="494.2" y1="261" x2="494.2" y2="263.6"/><line x1="512.6" y1="444.5" x2="512.6" y2="443.1" opacity="0.8"/><line x1="512.6" y1="261" x2="512.6" y2="262.4" opacity="0.8"/><line x1="523.4" y1="444.5" x2="523.4" y2="443.1" opacity="0.8"/><line x1="523.4" y1="261" x2="523.4" y2="262.4" opacity="0.8"/><line x1="531.0" y1="444.5" x2="531.0" y2="443.1" opacity="0.8"/><line x1="531.0" y1="261" x2="531.0" y2="262.4" opacity="0.8"/><line x1="536.9" y1="444.5" x2="536.9" y2="443.1" opacity="0.8"/><line x1="536.9" y1="261" x2="536.9" y2="262.4" opacity="0.8"/><line x1="541.8" y1="444.5" x2="541.8" y2="443.1" opacity="0.8"/><line x1="541.8" y1="261" x2="541.8" y2="262.4" opacity="0.8"/><line x1="545.9" y1="444.5" x2="545.9" y2="443.1" opacity="0.8"/><line x1="545.9" y1="261" x2="545.9" y2="262.4" opacity="0.8"/><line x1="549.4" y1="444.5" x2="549.4" y2="443.1" opacity="0.8"/><line x1="549.4" y1="261" x2="549.4" y2="262.4" opacity="0.8"/><line x1="552.6" y1="444.5" x2="552.6" y2="443.1" opacity="0.8"/><line x1="552.6" y1="261" x2="552.6" y2="262.4" opacity="0.8"/><line x1="555.4" y1="444.5" x2="555.4" y2="441.9"/><line x1="555.4" y1="261" x2="555.4" y2="263.6"/><line x1="573.8" y1="444.5" x2="573.8" y2="443.1" opacity="0.8"/><line x1="573.8" y1="261" x2="573.8" y2="262.4" opacity="0.8"/><line x1="584.5" y1="444.5" x2="584.5" y2="443.1" opacity="0.8"/><line x1="584.5" y1="261" x2="584.5" y2="262.4" opacity="0.8"/><line x1="592.2" y1="444.5" x2="592.2" y2="443.1" opacity="0.8"/><line x1="592.2" y1="261" x2="592.2" y2="262.4" opacity="0.8"/><line x1="598.1" y1="444.5" x2="598.1" y2="443.1" opacity="0.8"/><line x1="598.1" y1="261" x2="598.1" y2="262.4" opacity="0.8"/><line x1="602.9" y1="444.5" x2="602.9" y2="443.1" opacity="0.8"/><line x1="602.9" y1="261" x2="602.9" y2="262.4" opacity="0.8"/><line x1="607.0" y1="444.5" x2="607.0" y2="443.1" opacity="0.8"/><line x1="607.0" y1="261" x2="607.0" y2="262.4" opacity="0.8"/><line x1="610.6" y1="444.5" x2="610.6" y2="443.1" opacity="0.8"/><line x1="610.6" y1="261" x2="610.6" y2="262.4" opacity="0.8"/><line x1="613.7" y1="444.5" x2="613.7" y2="443.1" opacity="0.8"/><line x1="613.7" y1="261" x2="613.7" y2="262.4" opacity="0.8"/><line x1="616.5" y1="444.5" x2="616.5" y2="441.9"/><line x1="616.5" y1="261" x2="616.5" y2="263.6"/><line x1="371.9" y1="444.5" x2="374.5" y2="444.5"/><line x1="616.5" y1="444.5" x2="613.9" y2="444.5"/><line x1="371.9" y1="407.8" x2="374.5" y2="407.8"/><line x1="616.5" y1="407.8" x2="613.9" y2="407.8"/><line x1="371.9" y1="371.1" x2="374.5" y2="371.1"/><line x1="616.5" y1="371.1" x2="613.9" y2="371.1"/><line x1="371.9" y1="334.4" x2="374.5" y2="334.4"/><line x1="616.5" y1="334.4" x2="613.9" y2="334.4"/><line x1="371.9" y1="297.7" x2="374.5" y2="297.7"/><line x1="616.5" y1="297.7" x2="613.9" y2="297.7"/><line x1="371.9" y1="261.0" x2="374.5" y2="261.0"/><line x1="616.5" y1="261.0" x2="613.9" y2="261.0"/></g>
<g class="tk"><text x="367.7" y="448.8" text-anchor="end">114</text><text x="367.7" y="412.1" text-anchor="end">116</text><text x="367.7" y="375.4" text-anchor="end">118</text><text x="367.7" y="338.7" text-anchor="end">120</text><text x="367.7" y="302.0" text-anchor="end">122</text><text x="367.7" y="265.3" text-anchor="end">124</text><text x="371.9" y="461.5" text-anchor="middle">10<tspan dy="-4.5" font-size="7.5">-2</tspan></text><text x="433.0" y="461.5" text-anchor="middle">10<tspan dy="-4.5" font-size="7.5">-1</tspan></text><text x="494.2" y="461.5" text-anchor="middle">10<tspan dy="-4.5" font-size="7.5">0</tspan></text><text x="555.4" y="461.5" text-anchor="middle">10<tspan dy="-4.5" font-size="7.5">1</tspan></text><text x="616.5" y="461.5" text-anchor="middle">10<tspan dy="-4.5" font-size="7.5">2</tspan></text></g>
<text class="lb" x="494.2" y="475.5" text-anchor="middle">time</text>
<text class="lb" transform="translate(346,352.75) rotate(-90)" text-anchor="middle">Free Energy</text>
<path d="M371.9,266.2H498" fill="none" stroke="#0072bd" stroke-width="1.4"/>
<path d="M490,266.3C491.2,266.3 495.3,266.4 497,266.5C498.7,266.6 499.1,266.6 500,267.1C500.9,267.6 501.7,267.6 502.6,269.5C503.5,271.4 504.5,274.8 505.4,278.7C506.3,282.6 507.4,288.5 508.2,292.7C509,296.9 509.4,301 510.2,303.9C511,306.8 511.2,307.2 513,310C514.8,312.8 517.7,316.6 520.9,320.7C524.1,324.8 529.2,331.1 532,334.8C534.8,338.6 536.2,340.7 537.7,343.2C539.2,345.7 539.4,347 541,350C542.6,353 545.5,357.8 547.5,361.2C549.5,364.6 551,367.4 553.1,370.2C555.2,373 557.1,375.3 560.1,378C563.1,380.7 567.5,383.2 571.3,386.5C575,389.8 578.6,394.9 582.6,397.7C586.6,400.5 591,401.2 595.2,403.3C599.4,405.4 604.2,407.7 607.8,410.3C611.3,412.9 615,417.3 616.5,418.7" fill="none" stroke="#0072bd" stroke-width="2.1" stroke-linejoin="round"/>
</svg>
</body></html>
